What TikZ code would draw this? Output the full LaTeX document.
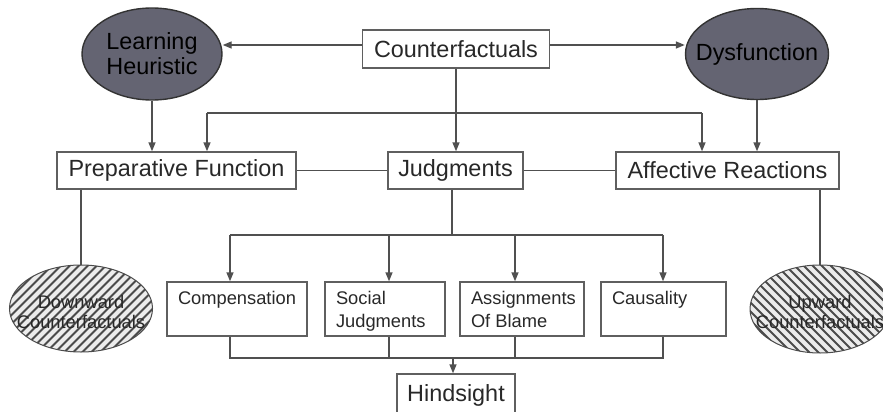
\documentclass[tikz,border=0pt]{standalone}
\usepackage{fontspec}
\setmainfont{Liberation Sans}
\usetikzlibrary{shapes.geometric,arrows.meta,calc}
\definecolor{linec}{RGB}{80,80,80}
\definecolor{boxc}{RGB}{95,95,95}
\definecolor{darkfill}{RGB}{100,100,114}
\definecolor{hatchc}{RGB}{75,75,75}
\definecolor{hatchbg}{RGB}{236,236,236}
\definecolor{txtc}{RGB}{40,40,40}
\begin{document}
\begin{tikzpicture}[x=1pt,y=-1pt,
  line width=1.4pt,
  big/.style={font=\fontsize{23.4}{25}\selectfont},
  small/.style={font=\fontsize{18.3}{23}\selectfont},
  bigbox/.style={draw=boxc, rectangle, inner sep=0pt, minimum height=37, text=txtc, big},
  smallbox/.style={draw=boxc, rectangle, inner sep=0pt, minimum height=54},
  darkell/.style={draw=black!80, fill=darkfill, ellipse, inner sep=0pt},
  hatchell/.style={draw=hatchc, ellipse, inner sep=0pt, line width=1pt},
  hatchline/.style={draw=hatchc, line width=1.8pt},
  arr/.style={draw=linec, -{Triangle[length=9pt,width=7pt]}},
  con/.style={draw=linec}
]
\useasboundingbox[fill=white] (0,0) rectangle (883,412);

% top row
\node[bigbox, minimum width=187, minimum height=38] (cf) at (456,49) {Counterfactuals};
\node[darkell, minimum width=140, minimum height=92,
  label={[big, align=center, text=black]center:Learning\\Heuristic}] (lh) at (152,54) {};
\node[darkell, minimum width=143, minimum height=91,
  label={[big, text=black]center:Dysfunction}] (dys) at (757,54) {};

% middle row
\node[bigbox, minimum width=239] (prep) at (176.5,170.5) {Preparative Function};
\node[bigbox, minimum width=135] (jd) at (455.5,170.5) {Judgments};
\node[bigbox, minimum width=223] (aff) at (727.5,170.5) {Affective Reactions};

% hatched ellipses
\coordinate (dwc) at (81,308.5);
\coordinate (upc) at (820,309);
\begin{scope}
  \clip (dwc) ellipse [x radius=71.5, y radius=43.5];
  \fill[hatchbg] (dwc) ellipse [x radius=71.5, y radius=43.5];
  \foreach \d in {-189,-180,...,189}
    \draw[hatchline] ($(dwc)+(\d-60,60)$) -- ++(120,-120);
\end{scope}
\begin{scope}
  \clip (upc) ellipse [x radius=70, y radius=44];
  \fill[hatchbg] (upc) ellipse [x radius=70, y radius=44];
  \foreach \d in {-189,-180,...,189}
    \draw[hatchline] ($(upc)+(\d-60,-60)$) -- ++(120,120);
\end{scope}
\node[hatchell, minimum width=143, minimum height=87,
  label={[align=center, text=txtc, font=\fontsize{18.3}{20}\selectfont, yshift=-3pt]center:Downward\\Counterfactuals}] (dw) at (dwc) {};
\node[hatchell, minimum width=140, minimum height=88,
  label={[align=center, text=txtc, font=\fontsize{18.3}{20}\selectfont, yshift=-3pt]center:Upward\\Counterfactuals}] (up) at (upc) {};

% bottom boxes
\tikzset{lbl/.style={label={[small, align=left, anchor=north west, inner sep=0pt, text=txtc, xshift=11pt, yshift=-9pt]north west:#1}}}
\node[smallbox, minimum width=140, lbl={Compensation}] (comp) at (237,309) {};
\node[smallbox, minimum width=120, lbl={Social\\Judgments}] (soc) at (385,309) {};
\node[smallbox, minimum width=124, lbl={Assignments\\Of Blame}] (asg) at (522,309) {};
\node[smallbox, minimum width=125, lbl={Causality}] (cau) at (663.5,309) {};

\node[bigbox, minimum width=118, minimum height=42] (hs) at (456,395) {Hindsight};

% connectors top
\draw[arr] ([yshift=4pt]cf.west) -- ([yshift=4pt]cf.west -| lh.east);
\draw[arr] ([yshift=4pt]cf.east) -- ([yshift=4pt]cf.east -| dys.west);
\draw[arr] (lh.south) -- (lh.south |- prep.north);
\draw[arr] (dys.south) -- (dys.south |- aff.north);
\draw[arr] (cf.south) -- (cf.south |- jd.north);
\coordinate (b1) at (207,113);
\coordinate (b2) at (702,113);
\draw[con] (b1) -- (b2);
\draw[arr] (b1) -- (b1 |- prep.north);
\draw[arr] (b2) -- (b2 |- aff.north);
\draw[con] (prep.east) -- (jd.west);
\draw[con] (jd.east) -- (aff.west);
\draw[con] (prep.south -| dw.north) -- (dw.north);
\draw[con] (aff.south -| up.north) -- (up.north);

% judgments fan-out
\coordinate (j0) at (452,235);
\coordinate (t1) at (230,235);
\coordinate (t2) at (389,235);
\coordinate (t3) at (515,235);
\coordinate (t4) at (663,235);
\draw[con] (jd.south -| j0) -- (j0);
\draw[con] (t1) -- (t4);
\draw[arr] (t1) -- (t1 |- comp.north);
\draw[arr] (t2) -- (t2 |- soc.north);
\draw[arr] (t3) -- (t3 |- asg.north);
\draw[arr] (t4) -- (t4 |- cau.north);

% fan-in to hindsight
\coordinate (u1) at (230,358);
\coordinate (u2) at (389,358);
\coordinate (u3) at (515,358);
\coordinate (u4) at (663,358);
\coordinate (h0) at (453,358);
\draw[con] (u1 |- comp.south) -- (u1) -- (u4) -- (u4 |- cau.south);
\draw[con] (u2 |- soc.south) -- (u2);
\draw[con] (u3 |- asg.south) -- (u3);
\draw[arr] (h0) -- (h0 |- hs.north);
\end{tikzpicture}
\end{document}
